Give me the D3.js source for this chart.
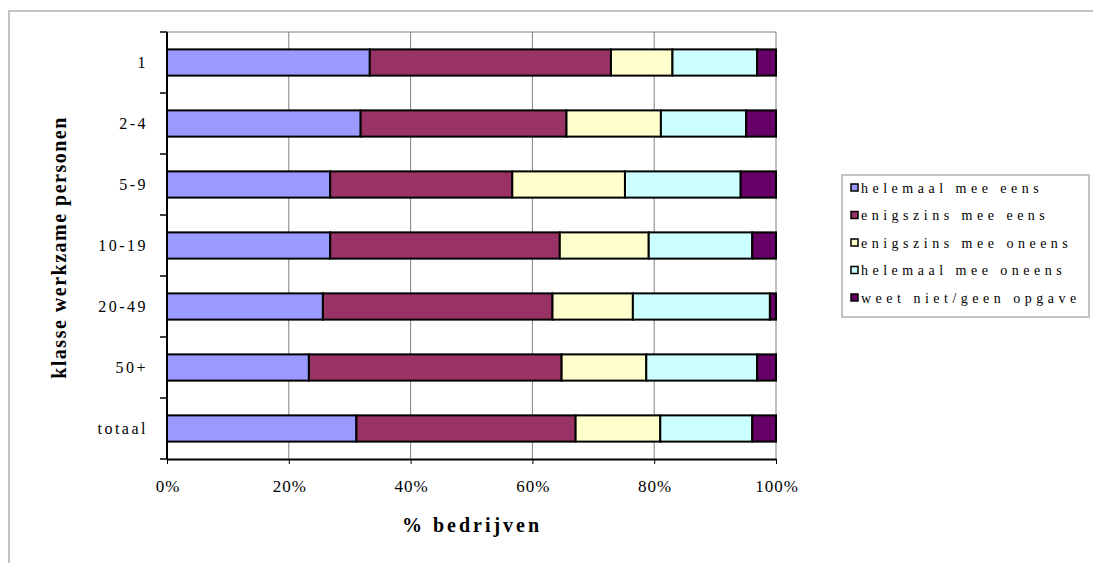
<!DOCTYPE html>
<html>
<head>
<meta charset="utf-8">
<script src="https://cdn.jsdelivr.net/npm/d3@7"></script>
<style>
  body { margin: 0; background: #fff; }
  svg { display: block; }
  text { font-family: "Liberation Serif", "Times New Roman", serif; fill: #000; }
</style>
</head>
<body>
<svg id="chart" width="1093" height="563"></svg>
<script>
// Company size classes (number of people employed)
const categories = ["1", "2-4", "5-9", "10-19", "20-49", "50+", "totaal"];
const seriesNames = ["helemaal mee eens", "enigszins mee eens", "enigszins mee oneens", "helemaal mee oneens", "weet niet/geen opgave"];

// Share of companies per answer, in percent
const helemaalEens    = [33.3, 31.8, 26.8, 26.8, 25.6, 23.3, 31.1];
const enigszinsEens   = [39.6, 33.8, 29.9, 37.7, 37.7, 41.5, 36.0];
const enigszinsOneens = [10.1, 15.5, 18.5, 14.6, 13.2, 13.9, 13.9];
const helemaalOneens  = [13.9, 14.0, 19.0, 17.0, 22.5, 18.2, 15.1];
const weetNiet        = [3.1, 4.9, 5.8, 3.9, 1.0, 3.1, 3.9];

const tickValues = [0, 20, 40, 60, 80, 100];
const tickLabels = ["0%", "20%", "40%", "60%", "80%", "100%"];
const colors = ["#9999ff", "#993366", "#ffffcc", "#ccffff", "#660066"];

const seriesValues = [helemaalEens, enigszinsEens, enigszinsOneens, helemaalOneens, weetNiet];
const rows = categories.map((c, i) => {
  const r = { cat: c };
  seriesNames.forEach((s, k) => { r[s] = seriesValues[k][i]; });
  return r;
});

const svg = d3.select("#chart");
const plot = { left: 167, right: 776, top: 32, bottom: 459 };

// Outer chart frame
svg.append("path")
  .attr("d", "M9,563 V11 H1093")
  .attr("fill", "none").attr("stroke", "#c4c4c4").attr("stroke-width", 2);

const x = d3.scaleLinear().domain([0, 100]).range([plot.left, plot.right]);
const y = d3.scaleBand().domain(categories).range([plot.top, plot.bottom]).padding(0);
const barH = y.bandwidth() * 0.43;

// Gridlines and top border of the plot area
svg.append("g").selectAll("line").data(tickValues.slice(1)).join("line")
  .attr("x1", d => x(d)).attr("x2", d => x(d))
  .attr("y1", plot.top).attr("y2", plot.bottom)
  .attr("stroke", "#808080").attr("stroke-width", 1);
svg.append("line")
  .attr("x1", plot.left).attr("x2", plot.right)
  .attr("y1", plot.top).attr("y2", plot.top)
  .attr("stroke", "#808080").attr("stroke-width", 1);

// Stacked bars
const stack = d3.stack().keys(seriesNames);
const layers = stack(rows);
svg.append("g").selectAll("g").data(layers).join("g")
  .attr("fill", (d, i) => colors[i])
  .selectAll("rect").data(d => d).join("rect")
  .attr("x", d => x(d[0]))
  .attr("width", d => x(d[1]) - x(d[0]))
  .attr("y", d => y(d.data.cat) + (y.bandwidth() - barH) / 2)
  .attr("height", barH)
  .attr("stroke", "#000").attr("stroke-width", 2);

// X axis
const xAxis = d3.axisBottom(x).tickValues(tickValues)
  .tickFormat((d, i) => tickLabels[i]).tickSize(5).tickSizeOuter(0).tickPadding(16);
const gx = svg.append("g").attr("transform", `translate(0,${plot.bottom})`).call(xAxis);
gx.select(".domain").attr("stroke", "#000").attr("stroke-width", 2);
gx.selectAll(".tick line").attr("stroke", "#000");
gx.selectAll(".tick text")
  .attr("font-family", "Liberation Serif").attr("font-size", 17)
  .attr("dx", 0.5)
  .style("letter-spacing", "1px");

// Y axis: labels centred on bands, ticks at band boundaries
const yEdges = categories.map(c => y(c)).concat([plot.bottom]);
svg.append("line")
  .attr("x1", plot.left).attr("x2", plot.left)
  .attr("y1", plot.top).attr("y2", plot.bottom)
  .attr("stroke", "#000").attr("stroke-width", 2);
svg.append("g").selectAll("line").data(yEdges).join("line")
  .attr("x1", plot.left - 7).attr("x2", plot.left)
  .attr("y1", d => d).attr("y2", d => d)
  .attr("stroke", "#000").attr("stroke-width", 1.5);
svg.append("g").selectAll("text").data(categories).join("text")
  .attr("x", 148)
  .attr("y", d => y(d) + y.bandwidth() / 2)
  .attr("dy", "0.35em")
  .attr("text-anchor", "end")
  .attr("font-size", 16)
  .style("letter-spacing", "2.5px")
  .text(d => d);

// Axis titles
svg.append("text")
  .attr("x", 472).attr("y", 532)
  .attr("text-anchor", "middle")
  .attr("font-size", 20).attr("font-weight", "bold")
  .style("letter-spacing", "3px")
  .text("% bedrijven");
svg.append("text")
  .attr("transform", `translate(66,${(plot.top + plot.bottom) / 2 + 2}) rotate(-90)`)
  .attr("text-anchor", "middle")
  .attr("font-size", 20).attr("font-weight", "bold")
  .style("letter-spacing", "1.5px")
  .text("klasse werkzame personen");

// Legend
const legend = svg.append("g");
legend.append("rect")
  .attr("x", 842).attr("y", 175).attr("width", 247).attr("height", 142)
  .attr("fill", "#fff").attr("stroke", "#c4c4c4").attr("stroke-width", 2);
const items = legend.selectAll("g.item").data(seriesNames).join("g")
  .attr("class", "item")
  .attr("transform", (d, i) => `translate(851,${188 + i * 27.5})`);
items.append("rect")
  .attr("x", 0).attr("y", -4).attr("width", 7).attr("height", 7)
  .attr("fill", (d, i) => colors[i]).attr("stroke", "#000").attr("stroke-width", 1.5);
items.append("text")
  .attr("x", 10).attr("dy", "0.35em")
  .attr("font-size", 14)
  .style("letter-spacing", "4.5px")
  .text(d => d);
</script>
</body>
</html>
